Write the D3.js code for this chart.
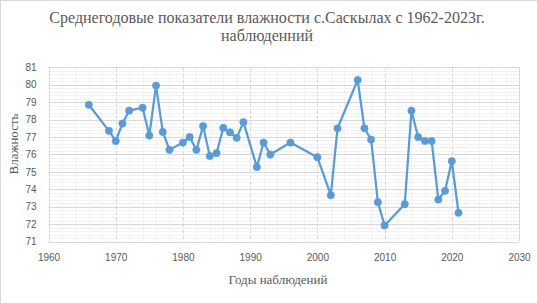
<!DOCTYPE html>
<html><head><meta charset="utf-8">
<script src="https://cdn.jsdelivr.net/npm/d3@7"></script>
<style>
html,body{margin:0;padding:0;background:#fff;}
svg{display:block;}
</style></head>
<body>
<svg id="chart" width="538" height="304"></svg>
<script>
const years = [1966,1969,1970,1971,1972,1974,1975,1976,1977,1978,1980,1981,1982,1983,1984,1985,1986,1987,1988,1989,1991,1992,1993,1996,2000,2002,2003,2006,2007,2008,2009,2010,2013,2014,2015,2016,2017,2018,2019,2020,2021];
const humidity = [78.85,77.35,76.77,77.77,78.51,78.68,77.08,79.95,77.29,76.26,76.68,77.0,76.26,77.62,75.91,76.07,77.52,77.27,76.95,77.85,75.27,76.68,75.99,76.68,75.84,73.66,77.5,80.27,77.5,76.85,73.26,71.92,73.14,78.51,76.99,76.77,76.77,73.41,73.91,75.61,72.65];
const xTicks = [1960,1970,1980,1990,2000,2010,2020,2030];
const yTicks = [71,72,73,74,75,76,77,78,79,80,81];
const titleLines = ["Среднегодовые показатели влажности с.Саскылах с 1962-2023г.", "наблюденний"];
const xTitle = "Годы наблюдений";
const yTitle = "Влажность";

const svg = d3.select("#chart");
const W = 538, H = 304;
const L = 48.5, R = 519, T = 67.3, B = 241.5;

svg.append("rect").attr("x",0.5).attr("y",0.5).attr("width",W-1).attr("height",H-1)
  .attr("fill","#fff").attr("stroke","#d9d9d9");

const x = d3.scaleLinear().domain([1960,2030]).range([L,R]);
const y = d3.scaleLinear().domain([71,81]).range([B,T]);

const grid = svg.append("g");
grid.selectAll(".minx").data(d3.range(1962,2030,2).filter(v=>v%10!==0)).join("line")
  .attr("x1",d=>Math.round(x(d))+0.5).attr("x2",d=>Math.round(x(d))+0.5).attr("y1",T).attr("y2",B)
  .attr("stroke","#f2f2f2").attr("stroke-width",1);
grid.selectAll(".miny").data(d3.range(71.2,81,0.2).filter(v=>Math.abs(v-Math.round(v))>0.01)).join("line")
  .attr("y1",d=>Math.round(y(d))+0.5).attr("y2",d=>Math.round(y(d))+0.5).attr("x1",L).attr("x2",R)
  .attr("stroke","#f2f2f2").attr("stroke-width",1);
grid.selectAll(".majy").data(yTicks).join("line")
  .attr("y1",d=>Math.round(y(d))+0.5).attr("y2",d=>Math.round(y(d))+0.5).attr("x1",L).attr("x2",R)
  .attr("stroke","#d9d9d9").attr("stroke-width",1);
grid.selectAll(".majx").data(xTicks).join("line")
  .attr("x1",d=>Math.round(x(d))+0.5).attr("x2",d=>Math.round(x(d))+0.5).attr("y1",T).attr("y2",B)
  .attr("stroke","#d9d9d9").attr("stroke-width",1)
  .attr("stroke-dasharray",d=>(d===1960||d===2030)?null:"4,2");

const xAxis = d3.axisBottom(x).tickValues(xTicks).tickSize(0).tickPadding(12).tickFormat(d3.format("d"));
const gx = svg.append("g").attr("transform",`translate(0,${B})`).call(xAxis);
gx.select(".domain").remove();
gx.selectAll("text").attr("fill","#595959").style("font-family","'Liberation Sans', Arial, sans-serif").style("font-size","10px");

const yAxis = d3.axisLeft(y).tickValues(yTicks).tickSize(0).tickPadding(12).tickFormat(d3.format("d"));
const gy = svg.append("g").attr("transform",`translate(${L},0)`).call(yAxis);
gy.select(".domain").remove();
gy.selectAll("text").attr("fill","#595959").style("font-family","'Liberation Sans', Arial, sans-serif").style("font-size","10px");

const data = years.map((yr,i)=>({yr, v: humidity[i]}));
svg.append("path").datum(data)
  .attr("d", d3.line().x(d=>x(d.yr)).y(d=>y(d.v)))
  .attr("fill","none").attr("stroke","#5b9bd5").attr("stroke-width",2.25).attr("stroke-linejoin","round");
svg.selectAll(".pt").data(data).join("circle")
  .attr("cx",d=>x(d.yr)).attr("cy",d=>y(d.v)).attr("r",3.6)
  .attr("fill","#5b9bd5").attr("stroke","#5b9bd5").attr("stroke-width",0.75);

const serif = "'Liberation Serif','Times New Roman',serif";
svg.selectAll(".title").data(titleLines).join("text")
  .attr("x",267).attr("y",(d,i)=>23+i*18).attr("text-anchor","middle")
  .attr("fill","#595959").style("font-family",serif).style("font-size","16px").text(d=>d);
svg.append("text").attr("x",278).attr("y",284).attr("text-anchor","middle")
  .attr("fill","#595959").style("font-family",serif).style("font-size","13px").text(xTitle);
svg.append("text").attr("transform","translate(18,144) rotate(-90)").attr("text-anchor","middle")
  .attr("fill","#595959").style("font-family",serif).style("font-size","13px").text(yTitle);
</script>
</body></html>
